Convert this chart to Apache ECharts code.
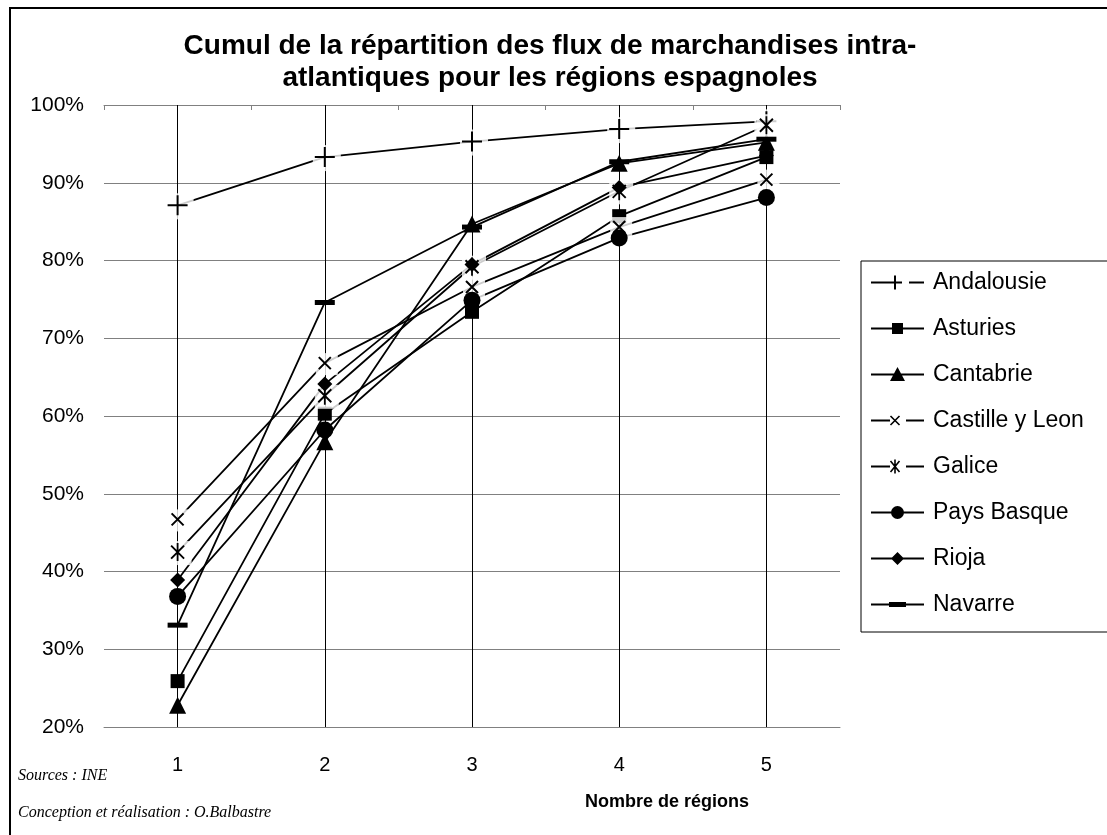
<!DOCTYPE html>
<html>
<head>
<meta charset="utf-8">
<script src="https://cdn.jsdelivr.net/npm/echarts@6/dist/echarts.min.js"></script>
<style>
  html, body { margin: 0; padding: 0; background: #fff; }
  #chart { width: 1107px; height: 835px; }
</style>
</head>
<body>
<div id="chart"></div>
<script>
// Number of regions (cumulative rank)
const categories = ['1', '2', '3', '4', '5'];

// Cumulative share of intra-Atlantic flows (%)
const andalousie  = [87.1, 93.3, 95.3, 96.9, 97.9];
const asturies    = [25.9, 60.3, 73.4, 85.7, 93.3];
const cantabrie   = [22.8, 56.7, 84.7, 92.5, 95.2];
const castille    = [46.7, 66.8, 76.6, 84.3, 90.4];
const galice      = [42.5, 62.6, 79.2, 88.9, 97.4];
const paysBasque  = [36.8, 58.2, 74.9, 82.9, 88.1];
const rioja       = [38.9, 64.1, 79.5, 89.4, 93.5];
const navarre     = [33.1, 74.6, 84.3, 92.7, 95.6];

const regionNames = ['Andalousie', 'Asturies', 'Cantabrie', 'Castille y Leon',
                     'Galice', 'Pays Basque', 'Rioja', 'Navarre'];
const regionValues = [andalousie, asturies, cantabrie, castille, galice, paysBasque, rioja, navarre];

// Y axis range (%)
const yMin = 20, yMax = 100, yStep = 10;

// ---- small path helpers (all sub-shapes share one winding so they union) ----
function poly(pts) {
  let a = 0;
  for (let i = 0; i < pts.length; i++) {
    const p = pts[i], q = pts[(i + 1) % pts.length];
    a += p[0] * q[1] - q[0] * p[1];
  }
  if (a < 0) pts = pts.slice().reverse();
  return 'M' + pts.map(p => p[0].toFixed(2) + ' ' + p[1].toFixed(2)).join('L') + 'Z';
}
function rect(x1, y1, x2, y2) { return poly([[x1, y1], [x2, y1], [x2, y2], [x1, y2]]); }
function seg(x1, y1, x2, y2, w) {
  const dx = x2 - x1, dy = y2 - y1, len = Math.hypot(dx, dy);
  const nx = -dy / len * w / 2, ny = dx / len * w / 2;
  return poly([[x1 + nx, y1 + ny], [x2 + nx, y2 + ny], [x2 - nx, y2 - ny], [x1 - nx, y1 - ny]]);
}
// invisible corner points fixing the path's bounding box
function frame(w, h) { return `M0 0L0 0ZM${w} ${h}L${w} ${h}Z`; }
function circle(cx, cy, r) {
  return `M${cx - r} ${cy}A${r} ${r} 0 1 1 ${cx + r} ${cy}A${r} ${r} 0 1 1 ${cx - r} ${cy}Z`;
}

// ---- chart markers ----
const plusMarker = 'path://' + frame(20, 20) + rect(9, 0, 11, 20) + rect(0, 9, 20, 11);
const crossMarker = 'path://' + frame(14, 14) + seg(1, 1, 13, 13, 2) + seg(13, 1, 1, 13, 2);
const starMarker = 'path://' + frame(16, 18) + seg(1.5, 2.5, 14.5, 15.5, 1.9) +
                   seg(14.5, 2.5, 1.5, 15.5, 1.9) + rect(7.1, 0, 8.9, 18);

const markerDefs = [
  { symbol: plusMarker,  size: [20, 20], halo: [28, 26] },
  { symbol: 'rect',      size: [14, 14] },
  { symbol: 'triangle',  size: [17, 17] },
  { symbol: crossMarker, size: [14, 14], halo: [22, 22] },
  { symbol: starMarker,  size: [16, 18], halo: [24, 24] },
  { symbol: 'circle',    size: [17, 17] },
  { symbol: 'diamond',   size: [15, 15] },
  { symbol: 'rect',      size: [20, 5] }
];

// ---- legend icons (line + marker), box 57 x 16 ----
const LW = 57, LH = 16;
const bar = rect(0, 7, 53, 9);
const legendIcons = [
  frame(LW, LH) + rect(0, 7, 31, 9) + rect(23, 1, 25, 15) + rect(38, 7, 53, 9),
  frame(LW, LH) + bar + rect(21, 2.5, 32, 13.5),
  frame(LW, LH) + bar + poly([[26.5, 0.5], [34, 14.5], [19, 14.5]]),
  frame(LW, LH) + rect(0, 7, 19, 9) + seg(19.5, 3.5, 28.5, 12.5, 1.6) +
      seg(28.5, 3.5, 19.5, 12.5, 1.6) + rect(35, 7, 53, 9),
  frame(LW, LH) + rect(0, 7, 19, 9) + seg(19.5, 2.5, 28.5, 13.5, 1.6) +
      seg(28.5, 2.5, 19.5, 13.5, 1.6) + rect(23.2, 1, 24.8, 15) + rect(35, 7, 53, 9),
  frame(LW, LH) + bar + circle(26.5, 8, 6.5),
  frame(LW, LH) + bar + poly([[26.5, 1.5], [33, 8], [26.5, 14.5], [20, 8]]),
  frame(LW, LH) + bar + rect(18, 5.5, 35, 10.5)
].map(p => 'path://' + p);

// ---- series ----
const series = [];
regionNames.forEach((name, i) => {
  const s = {
    name: name,
    type: 'line',
    data: regionValues[i],
    symbol: 'none',
    lineStyle: { color: '#000', width: 1.8 },
    itemStyle: { color: '#000' },
    z: 2,
    silent: true,
    animation: false
  };
  if (i === 0) {
    // vertical lines through each category
    s.markLine = {
      silent: true,
      z: 1,
      symbol: ['none', 'none'],
      label: { show: false },
      lineStyle: { color: '#000', width: 1, type: 'solid' },
      emphasis: { disabled: true },
      animation: false,
      data: categories.map(c => ({ xAxis: c }))
    };
  }
  series.push(s);
});
regionNames.forEach((name, i) => {
  const def = markerDefs[i];
  if (def.halo) {
    series.push({
      name: name,
      type: 'scatter',
      data: regionValues[i],
      symbol: 'rect',
      symbolSize: def.halo,
      symbolOffset: [2, 1],
      itemStyle: { color: '#fff', borderWidth: 0 },
      z: 3,
      silent: true,
      animation: false
    });
  }
  series.push({
    name: name,
    type: 'scatter',
    data: regionValues[i],
    symbol: def.symbol,
    symbolSize: def.size,
    itemStyle: { color: '#000', borderWidth: 0, opacity: 1 },
    z: 3,
    silent: true,
    animation: false
  });
});

const chart = echarts.init(document.getElementById('chart'), null, { renderer: 'canvas' });
chart.setOption({
  animation: false,
  backgroundColor: '#fff',
  color: ['#000'],
  grid: { left: 104, top: 105, width: 736, height: 622, containLabel: false },
  xAxis: [
    {
      type: 'category',
      data: categories,
      boundaryGap: true,
      axisLine: { show: true, lineStyle: { color: '#808080', width: 1 } },
      axisTick: { show: false },
      axisLabel: { margin: 28, fontSize: 20, fontFamily: 'Arial, "Liberation Sans"', color: '#000' },
      splitLine: { show: false }
    },
    {
      type: 'category',
      data: categories,
      position: 'top',
      boundaryGap: true,
      axisLine: { show: true, lineStyle: { color: '#808080', width: 1 } },
      axisTick: { show: true, inside: true, length: 5, lineStyle: { color: '#808080' } },
      axisLabel: { show: false },
      splitLine: { show: false }
    }
  ],
  yAxis: {
    type: 'value',
    min: yMin,
    max: yMax,
    interval: yStep,
    axisLine: { show: false },
    axisTick: { show: false },
    axisLabel: {
      formatter: '{value}%',
      margin: 20,
      fontSize: 21,
      fontFamily: 'Arial, "Liberation Sans"',
      color: '#000'
    },
    splitLine: { show: true, lineStyle: { color: '#808080', width: 1 } }
  },
  legend: {
    orient: 'vertical',
    left: 861,
    top: 261,
    padding: [10, 40, 16, 10],
    itemWidth: LW,
    itemHeight: LH,
    itemGap: 23,
    backgroundColor: '#fff',
    borderColor: '#000',
    borderWidth: 1,
    borderRadius: 0,
    selectedMode: false,
    itemStyle: { color: '#000', borderWidth: 0 },
    textStyle: { fontSize: 23, fontFamily: 'Arial, "Liberation Sans"', color: '#000' },
    data: regionNames.map((n, i) => ({ name: n, icon: legendIcons[i] }))
  },
  graphic: [
    {
      type: 'rect', silent: true, z: 0,
      shape: { x: 10, y: 8, width: 1110, height: 840 },
      style: { fill: 'none', stroke: '#000', lineWidth: 2 }
    },
    {
      type: 'text', silent: true,
      style: {
        text: 'Cumul de la répartition des flux de marchandises intra-',
        x: 550, y: 46, align: 'center', verticalAlign: 'middle',
        font: 'bold 28px Arial, "Liberation Sans"', fill: '#000'
      }
    },
    {
      type: 'text', silent: true,
      style: {
        text: 'atlantiques pour les régions espagnoles',
        x: 550, y: 78, align: 'center', verticalAlign: 'middle',
        font: 'bold 28px Arial, "Liberation Sans"', fill: '#000'
      }
    },
    {
      type: 'text', silent: true,
      style: {
        text: 'Nombre de régions',
        x: 667, y: 802, align: 'center', verticalAlign: 'middle',
        font: 'bold 18px Arial, "Liberation Sans"', fill: '#000'
      }
    },
    {
      type: 'text', silent: true,
      style: {
        text: 'Sources : INE',
        x: 18, y: 776, align: 'left', verticalAlign: 'middle',
        font: 'italic 16px "Times New Roman", "Liberation Serif"', fill: '#000'
      }
    },
    {
      type: 'text', silent: true,
      style: {
        text: 'Conception et réalisation : O.Balbastre',
        x: 18, y: 813, align: 'left', verticalAlign: 'middle',
        font: 'italic 16px "Times New Roman", "Liberation Serif"', fill: '#000'
      }
    }
  ],
  series: series
});
</script>
</body>
</html>
